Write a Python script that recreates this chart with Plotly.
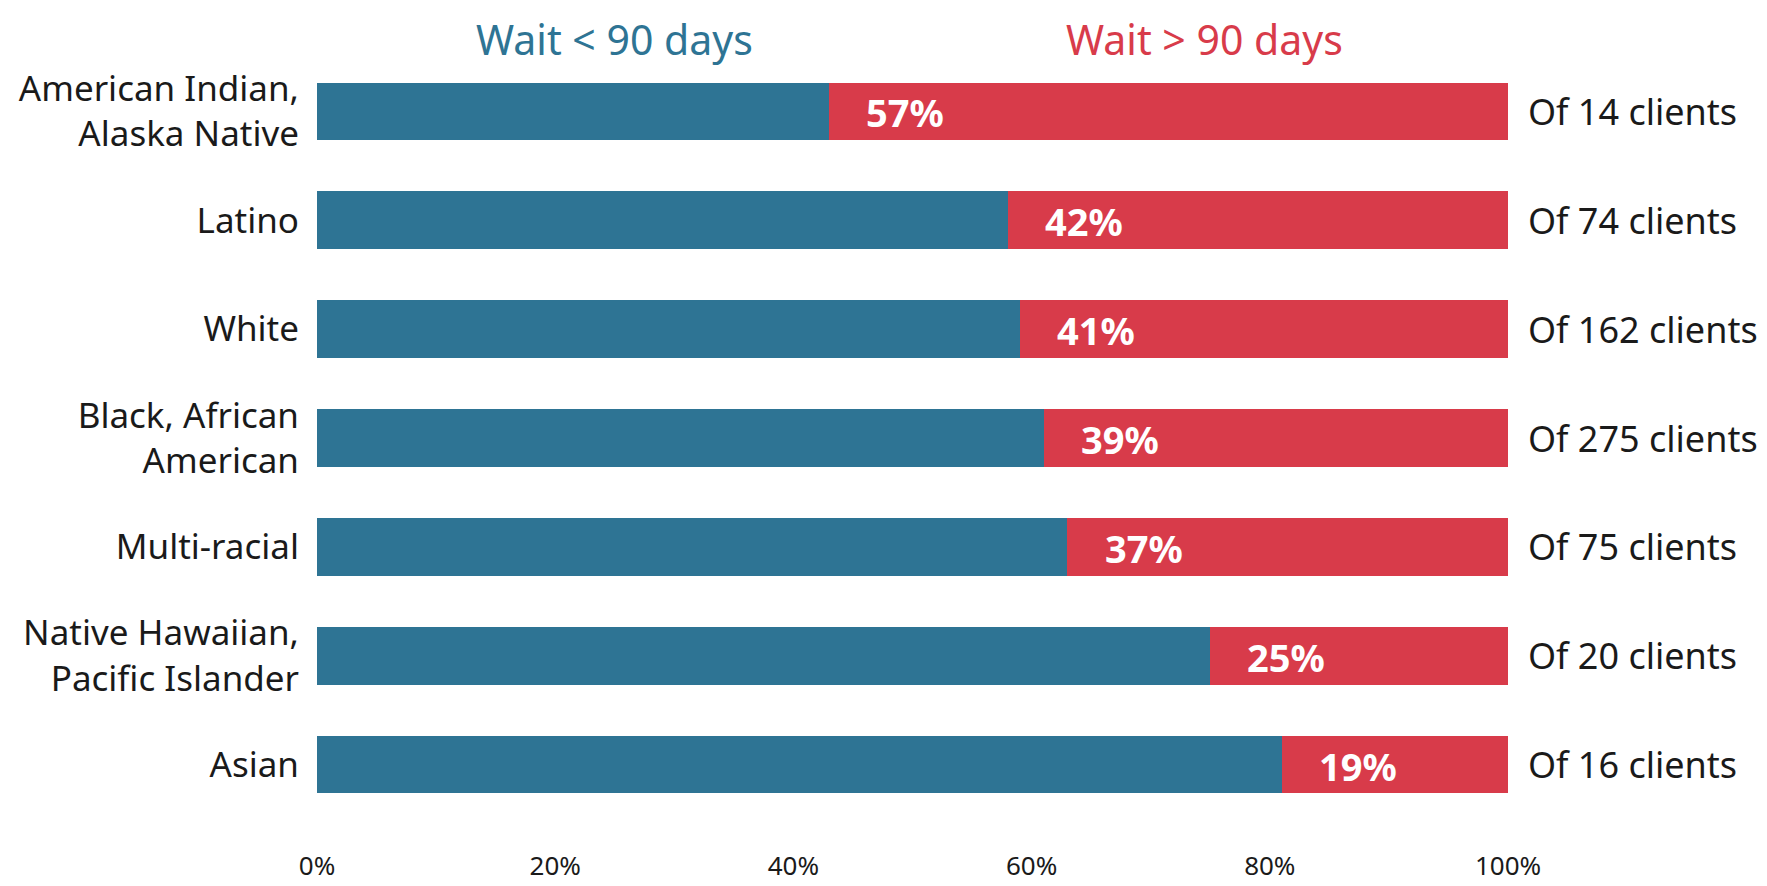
import plotly.graph_objects as go

# data
categories = [
    "American Indian,<br>Alaska Native",
    "Latino",
    "White",
    "Black, African<br>American",
    "Multi-racial",
    "Native Hawaiian,<br>Pacific Islander",
    "Asian",
]
wait_over_90 = [57, 42, 41, 39, 37, 25, 19]
clients = [14, 74, 162, 275, 75, 20, 16]
wait_under_90 = [100 - v for v in wait_over_90]

BLUE = "#2E7494"
RED = "#D83B4A"
FONT = "Noto Sans"

fig = go.Figure()
fig.add_trace(
    go.Bar(
        y=categories,
        x=wait_under_90,
        orientation="h",
        marker=dict(color=BLUE, line=dict(width=0)),
        hoverinfo="skip",
    )
)
fig.add_trace(
    go.Bar(
        y=categories,
        x=wait_over_90,
        orientation="h",
        marker=dict(color=RED, line=dict(width=0)),
        hoverinfo="skip",
    )
)

for cat, u, v, n in zip(categories, wait_under_90, wait_over_90, clients):
    # percent label, a little inside the red segment
    fig.add_annotation(
        x=u + 6.4, y=cat, xref="x", yref="y",
        text=f"<b>{v}%</b>",
        showarrow=False, xanchor="center", yanchor="middle", yshift=-1,
        font=dict(family=FONT, size=38, color="white"),
    )
    fig.add_annotation(
        x=100, y=cat, xref="x", yref="y",
        text=f"Of {n} clients",
        showarrow=False, xanchor="left", xshift=18,
        font=dict(family=FONT, size=36, color="#1a1a1a"),
    )

fig.add_annotation(
    x=0.25, y=1.024, xref="paper", yref="paper",
    text="Wait &lt; 90 days", showarrow=False,
    xanchor="center", yanchor="middle",
    font=dict(family=FONT, size=41, color=BLUE),
)
fig.add_annotation(
    x=0.745, y=1.024, xref="paper", yref="paper",
    text="Wait &gt; 90 days", showarrow=False,
    xanchor="center", yanchor="middle",
    font=dict(family=FONT, size=41, color=RED),
)

fig.update_layout(
    width=1767,
    height=886,
    barmode="stack",
    bargap=0.47,
    showlegend=False,
    margin=dict(l=309, r=267, t=49, b=75),
    plot_bgcolor="white",
    paper_bgcolor="white",
    font=dict(family=FONT, color="#1a1a1a"),
    xaxis=dict(
        range=[0, 100],
        dtick=20,
        ticksuffix="%",
        showgrid=False,
        zeroline=False,
        showline=False,
        ticks="outside",
        ticklen=24,
        tickcolor="rgba(0,0,0,0)",
        tickfont=dict(family=FONT, size=26),
        automargin=False,
    ),
    yaxis=dict(
        autorange="reversed",
        showgrid=False,
        zeroline=False,
        ticks="outside",
        ticklen=10,
        tickcolor="rgba(0,0,0,0)",
        tickfont=dict(family=FONT, size=35),
        automargin=False,
    ),
)

fig.write_html("out.html")
